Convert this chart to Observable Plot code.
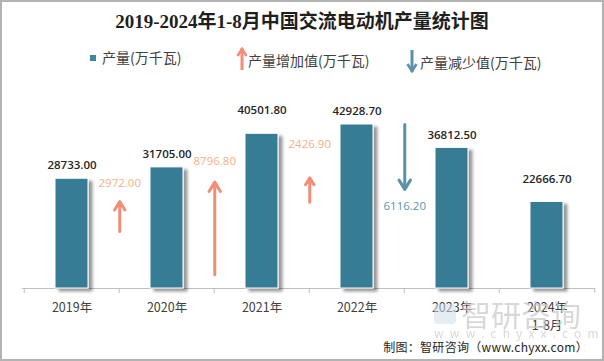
<!DOCTYPE html>
<html>
<head>
<meta charset="utf-8">
<script src="https://cdn.jsdelivr.net/npm/d3@7"></script>
<script src="https://cdn.jsdelivr.net/npm/@observablehq/plot@0.6"></script>
<style>
  html, body { margin: 0; padding: 0; background: #fff; }
  #wrap { position: relative; width: 604px; height: 361px; overflow: hidden; background: #fff;
          font-family: "Noto Sans CJK SC", "Noto Sans", sans-serif; }
  #chart { position: absolute; left: 0; top: 0; }
  #frame { position: absolute; left: 0; top: 0; width: 604px; height: 361px; box-sizing: border-box;
           border: 2px solid #b3b3b3; pointer-events: none; }
  .abs { position: absolute; white-space: nowrap; }
  #title { left: 0; width: 604px; top: 9px; text-align: center; font-size: 19px; font-weight: bold;
           font-family: "Liberation Serif", "Noto Sans CJK SC", serif; color: #1f1f1f; line-height: 26px; }
  .leg { font-size: 14px; line-height: 16px; color: #404040; }
  #footer { right: 16px; top: 339px; font-size: 12px; line-height: 16px; color: #262626; letter-spacing: 0.3px; }
  .wm { color: #c8c8c8; opacity: 0.7; }
</style>
</head>
<body>
<div id="wrap">
  <div id="chart"></div>
  <div id="title" class="abs">2019-2024年1-8月中国交流电动机产量统计图</div>
  <div id="leg1sq" class="abs" style="left:90px;top:55px;width:6px;height:6px;background:#3e86a0;"></div>
  <div id="leg1" class="abs leg" style="left:102px;top:49px;">产量(万千瓦)</div>
  <svg class="abs" style="left:234px;top:46px;" width="16" height="26" id="legUp"></svg>
  <div id="leg2" class="abs leg" style="left:248px;top:52px;">产量增加值(万千瓦)</div>
  <svg class="abs" style="left:404px;top:48px;" width="16" height="26" id="legDown"></svg>
  <div id="leg3" class="abs leg" style="left:420px;top:54px;">产量减少值(万千瓦)</div>
  <div class="abs wm" style="left:434px;top:304px;width:22px;height:20px;border-radius:4px;background:#cfdde8;opacity:0.55;"></div>
  <div class="abs wm" style="left:461px;top:296px;font-size:30px;line-height:34px;">智研咨询</div>
  <div class="abs wm" style="left:434px;top:326px;font-size:12px;line-height:14px;letter-spacing:6.2px;">www.chyxx.com</div>
  <div id="footer" class="abs">制图：智研咨询（www.chyxx.com）</div>
  <div id="frame"></div>
</div>
<script>
// ---- data ----
const years = ["2019年", "2020年", "2021年", "2022年", "2023年", "2024年1-8月"];
const tickLabels = ["2019年", "2020年", "2021年", "2022年", "2023年", "2024年\n1-8月"];
const production = [28733.00, 31705.00, 40501.80, 42928.70, 36812.50, 22666.70];
// change between a year and the next one, drawn after the "from" year
const changeFrom = ["2019年", "2020年", "2021年", "2022年"];
const changeValues = [2972.00, 8796.80, 2426.90, -6116.20];
// arrow tails and tips, in production units
const arrowStart = [14900, 3600, 22600, 42900];
const arrowEnd = [22800, 27850, 29000, 25900];

// ---- style ----
const W = 604, H = 361, ML = 22, MR = 9, MT = 97, MB = 73;
const step = (W - ML - MR) / years.length;
const barColor = "#367b94";
const upColor = "#f08e78";
const upLabelColor = "#f4b183";
const downColor = "#5a93a9";
const downLabelColor = "#5b95b0";
const axisColor = "#bfbfbf";
const valueLabelDy = [-13, -13.5, -23, -13, -13, -23];
const changeLabelDy = [-18, -21, -33, 17];

const rows = years.map((year, i) => ({year, value: production[i], label: tickLabels[i], i}));
const changes = changeFrom.map((year, i) => ({year, value: changeValues[i], from: arrowStart[i], to: arrowEnd[i], i}));
const fmt = d3.format(".2f");

const marks = [
  Plot.ruleY([0], {stroke: axisColor, strokeWidth: 1}),
  Plot.ruleX(years, {x: d => d, dx: -step / 2, y1: 0, y2: 0, insetBottom: -5, stroke: axisColor}),
  Plot.ruleX([years[years.length - 1]], {x: d => d, dx: step / 2, y1: 0, y2: 0, insetBottom: -5, stroke: axisColor}),
  Plot.barY(rows, {x: "year", y: "value", fill: barColor, stroke: "white", strokeWidth: 1}),
  Plot.text(rows, {x: "year", y: 0, text: "label", dy: 11, lineAnchor: "top", lineHeight: 1.42,
                   fontSize: 12.5, fill: "#404040", fontFamily: "Noto Sans CJK SC"}),
  Plot.arrow(changes.filter(d => d.value > 0), {x1: "year", x2: "year", y1: "from", y2: "to", dx: step / 2,
             stroke: upColor, strokeWidth: 3, headLength: 5.5, headAngle: 62}),
  Plot.arrow(changes.filter(d => d.value < 0), {x1: "year", x2: "year", y1: "from", y2: "to", dx: step / 2,
             stroke: downColor, strokeWidth: 3, headLength: 5.5, headAngle: 62})
];
rows.forEach((r, i) => {
  marks.push(Plot.text([r], {x: "year", y: "value", text: d => fmt(d.value), dy: valueLabelDy[i],
    fontSize: 11.5, fontWeight: 600, fill: "#262626", fontFamily: "Open Sans"}));
});
changes.forEach((c, i) => {
  marks.push(Plot.text([c], {x: "year", y: "to", text: d => fmt(Math.abs(d.value)), dx: step / 2, dy: changeLabelDy[i],
    fontSize: 11.5, fill: c.value > 0 ? upLabelColor : downLabelColor, fontFamily: "Open Sans"}));
});

const chart = Plot.plot({
  width: W, height: H,
  marginTop: MT, marginBottom: MB, marginLeft: ML, marginRight: MR,
  x: {domain: years, paddingInner: 0.654, paddingOuter: 0.327, axis: null},
  y: {domain: [0, 50000], axis: null},
  style: {background: "transparent", fontFamily: "Open Sans", fontSize: "12px", overflow: "visible"},
  marks
});
document.getElementById("chart").appendChild(chart);

// soft shadow on the bars
const ns = "http://www.w3.org/2000/svg";
const defs = document.createElementNS(ns, "defs");
defs.innerHTML = '<filter id="barShadow" x="-30%" y="-10%" width="180%" height="125%">' +
  '<feDropShadow dx="4" dy="3" stdDeviation="1.6" flood-color="#000" flood-opacity="0.4"/></filter>';
chart.insertBefore(defs, chart.firstChild);
chart.querySelectorAll('g[aria-label="bar"] rect').forEach(r => r.setAttribute("filter", "url(#barShadow)"));

// legend arrows
function legendArrow(svg, up, color) {
  const g = d3.select(svg);
  const x = 8;
  const tip = up ? 2 : 24, tail = up ? 24 : 2;
  const s = up ? 1 : -1;
  g.append("path").attr("d", `M${x},${tail}L${x},${tip}`).attr("stroke", color).attr("stroke-width", 3).attr("fill", "none");
  g.append("path").attr("d", `M${x - 4.5},${tip + s * 8}L${x},${tip + s * 1}L${x + 4.5},${tip + s * 8}`)
    .attr("stroke", color).attr("stroke-width", 2.6).attr("fill", "none");
}
legendArrow(document.getElementById("legUp"), true, upColor);
legendArrow(document.getElementById("legDown"), false, downColor);
</script>
</body>
</html>
